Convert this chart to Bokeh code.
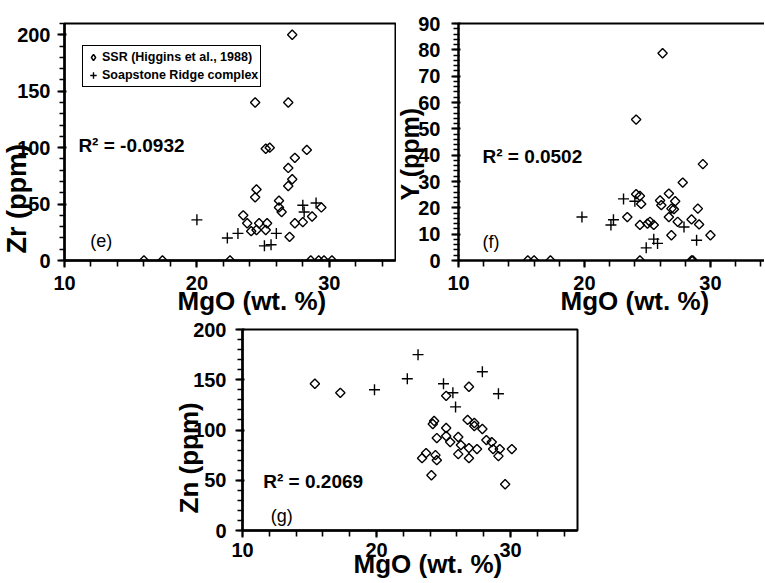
import math
from bokeh.plotting import figure
from bokeh.layouts import column, row
from bokeh.models import (Range1d, SingleIntervalTicker, FixedTicker, LinearAxis, Label,
                          Legend, LegendItem, Spacer, Title)
from bokeh.embed import file_html
from bokeh.resources import INLINE

FONT = "Liberation Sans"

# ---------------- data ----------------
# Panel (e): Zr vs MgO
e_ssr_mgo = [27.2, 24.4, 26.9, 25.2, 25.5, 28.3, 27.4, 26.9, 27.2, 26.9, 24.5, 24.4, 26.2, 26.2,
             26.4, 23.5, 23.8, 24.1, 24.7, 24.5, 25.3, 25.2, 27.4, 28.0, 28.7, 29.4, 27.0,
             16.0, 17.4, 22.5, 28.6, 29.2, 29.6, 30.2]
e_ssr_zr = [200, 140, 140, 99, 100, 98, 91, 82, 72, 66, 63, 56, 53, 47,
            43, 40, 33, 26, 33, 27, 33, 27, 33, 34, 39, 47, 21,
            0, 0, 0, 0, 0, 0, 0]
e_src_mgo = [20.0, 22.3, 23.1, 25.1, 25.6, 26.0, 28.0, 28.1, 29.0]
e_src_zr = [36, 20, 24, 13, 14, 24, 49, 43, 51]

# Panel (f): Y vs MgO
f_ssr_mgo = [26.2, 24.1, 29.4, 27.8, 24.1, 24.4, 24.5, 26.0, 26.1, 26.7, 26.9, 27.2, 27.1, 26.7,
             27.4, 29.0, 28.5, 29.1, 30.0, 26.9, 23.4, 24.4, 25.2, 25.5, 25.0,
             15.5, 16.0, 17.3, 24.4, 28.5, 28.6]
f_ssr_y = [78.7, 53.5, 36.6, 29.6, 25.2, 24.5, 21.5, 22.8, 21.0, 25.4, 19.7, 22.5, 19.5, 16.5,
           14.7, 19.7, 15.6, 13.7, 9.6, 9.6, 16.5, 13.5, 14.7, 13.5, 14.0,
           0, 0, 0, 0, 0, 0]
f_src_mgo = [19.8, 22.1, 22.3, 23.1, 24.0, 24.9, 25.5, 25.8, 27.9, 28.9]
f_src_y = [16.5, 13.5, 15.5, 23.4, 22.5, 4.8, 8.1, 6.5, 12.7, 7.7]

# Panel (g): Zn vs MgO
g_ssr_mgo = [15.4, 17.3, 26.9, 25.2, 24.3, 24.2, 26.8, 27.3, 27.3, 27.9, 25.2, 24.5, 25.2, 25.5,
             26.1, 26.3, 26.1, 26.9, 27.5, 26.9, 28.2, 28.6, 28.7, 29.1, 29.2, 30.1, 29.6,
             23.4, 23.7, 24.4, 24.5, 24.1]
g_ssr_zn = [146, 137, 143, 134, 109, 106, 110, 107, 104, 101, 102, 92, 94, 88,
            93, 85, 76, 82, 81, 72, 90, 88, 81, 74, 81, 81, 46,
            72, 77, 75, 70, 55]
g_src_mgo = [19.85, 22.3, 23.1, 25.0, 25.7, 25.9, 27.9, 29.1]
g_src_zn = [140, 151, 175, 146, 137, 123, 158, 136]

x_ticks_interval = 10
legend_labels = ["SSR (Higgins et al., 1988)", "Soapstone Ridge complex"]


def make_fig(width, height, bl, br, bt, bb, xr, yr, y_interval, y_minor,
             x_standoff=9, y_standoff=7, outline=True):
    p = figure(width=width, height=height, x_range=Range1d(*xr), y_range=Range1d(*yr),
               output_backend="svg", toolbar_location=None,
               min_border_left=bl, min_border_right=br, min_border_top=bt, min_border_bottom=bb)
    p.grid.visible = False
    p.background_fill_color = "white"
    p.border_fill_color = "white"
    if outline:
        p.outline_line_color = "black"
        p.outline_line_width = 2
        p.outline_line_alpha = 1
    else:
        p.outline_line_color = None
    p.xaxis.ticker = SingleIntervalTicker(interval=x_ticks_interval, num_minor_ticks=5)
    p.yaxis.ticker = SingleIntervalTicker(interval=y_interval, num_minor_ticks=y_minor)
    for ax in (p.xaxis[0], p.yaxis[0]):
        ax.axis_line_color = "black"
        ax.axis_line_width = 2.5
        ax.major_tick_line_color = "black"
        ax.minor_tick_line_color = "black"
        ax.major_tick_line_alpha = 1
        ax.minor_tick_line_alpha = 1
        ax.major_tick_line_width = 2
        ax.minor_tick_line_width = 1.6
        ax.major_label_text_font = FONT
        ax.major_label_text_font_style = "bold"
        ax.major_label_text_font_size = "20px"
        ax.major_label_text_color = "black"
    p.xaxis.major_tick_out = 7
    p.xaxis.major_tick_in = 0
    p.xaxis.minor_tick_out = 6
    p.xaxis.minor_tick_in = 0
    p.xaxis.major_label_standoff = x_standoff
    p.yaxis.major_tick_out = 7
    p.yaxis.major_tick_in = 2
    p.yaxis.minor_tick_out = 5
    p.yaxis.minor_tick_in = 1
    p.yaxis.major_label_standoff = y_standoff
    return p


def add_points(p, xs_d, ys_d, xs_p, ys_p):
    d = p.scatter(xs_d, ys_d, marker="square", angle=math.pi / 4, size=6.6,
                  fill_color=None, line_color="black", line_width=1.4)
    c = p.scatter(xs_p, ys_p, marker="cross", size=11, line_color="black", line_width=1.4)
    return d, c


def add_text(p, x, y, text, size, bold=True):
    p.add_layout(Label(x=x, y=y, text=text, text_font=FONT,
                       text_font_style="bold" if bold else "normal",
                       text_font_size=size, text_color="black",
                       text_align="left", text_baseline="middle"))


def add_xtitle(p, text, offset, standoff, size="26px"):
    p.add_layout(Title(text=text, align="left", offset=offset, standoff=standoff,
                       vertical_align="top", text_font=FONT, text_font_style="bold",
                       text_font_size=size, text_color="black"), "below")


def add_ytitle(p, text, offset, standoff, size="26px"):
    p.add_layout(Title(text=text, align="left", offset=offset, standoff=standoff,
                       vertical_align="bottom", text_font=FONT, text_font_style="bold",
                       text_font_size=size, text_color="black"), "left")


# ---------------- panel (e) ----------------
pe = make_fig(396, 320, 64, 1, 23, 60, (10, 35), (0, 210), 50, 5, x_standoff=8, y_standoff=7)
de, ce = add_points(pe, e_ssr_mgo, e_ssr_zr, e_src_mgo, e_src_zr)
dummy = pe.scatter(x=[-50], y=[-50], marker="diamond", size=10, fill_color=None,
                   line_color="black", line_width=1.5)
legend = Legend(items=[LegendItem(label=legend_labels[0], renderers=[dummy]),
                       LegendItem(label=legend_labels[1], renderers=[ce])],
                location=(18, 173), label_text_font=FONT, label_text_font_style="bold",
                label_text_font_size="12.5px", label_text_color="black",
                glyph_width=16, glyph_height=18,
                label_height=17, label_standoff=1, spacing=0, padding=2, margin=0,
                border_line_color="black", border_line_width=1.5, border_line_alpha=1,
                background_fill_color="white", background_fill_alpha=1)
pe.add_layout(legend)
add_text(pe, 11.05, 102, "R² = -0.0932", "19px")
add_text(pe, 11.95, 17, "(e)", "18px", bold=False)
add_xtitle(pe, "MgO (wt. %)", 113, -13)
add_ytitle(pe, "Zr (ppm)", 7, -35, size="27px")

# ---------------- panel (f) ----------------
pf = make_fig(368, 320, 62, 0, 20, 60, (10, 34.29), (0, 90), 10, 5, x_standoff=8,
              y_standoff=11, outline=False)
top_axis = LinearAxis(ticker=FixedTicker(ticks=[]), axis_line_color="black",
                      axis_line_width=2, major_label_text_font_size="0px")
pf.add_layout(top_axis, "above")
add_points(pf, f_ssr_mgo, f_ssr_y, f_src_mgo, f_src_y)
add_text(pf, 11.9, 39.4, "R² = 0.0502", "19px")
add_text(pf, 11.9, 7.1, "(f)", "18px", bold=False)
add_xtitle(pf, "MgO (wt. %)", 102, -13)
add_ytitle(pf, "Y (ppm)", 60, -17, size="25px")

# ---------------- panel (g) ----------------
pg = make_fig(408, 262, 68, 5, 9, 52, (10, 35), (0, 200), 50, 5, x_standoff=5, y_standoff=9)
add_points(pg, g_ssr_mgo, g_ssr_zn, g_src_mgo, g_src_zn)
add_text(pg, 11.55, 48.8, "R² = 0.2069", "19px")
add_text(pg, 12.1, 14.6, "(g)", "18px", bold=False)
add_xtitle(pg, "MgO (wt. %)", 111, -21)
add_ytitle(pg, "Zn (ppm)", 17, -27)

layout = column(row(pe, pf, spacing=0), row(Spacer(width=174, height=262), pg, spacing=0),
                spacing=0)

open("out.html", "w").write(file_html(layout, INLINE))
